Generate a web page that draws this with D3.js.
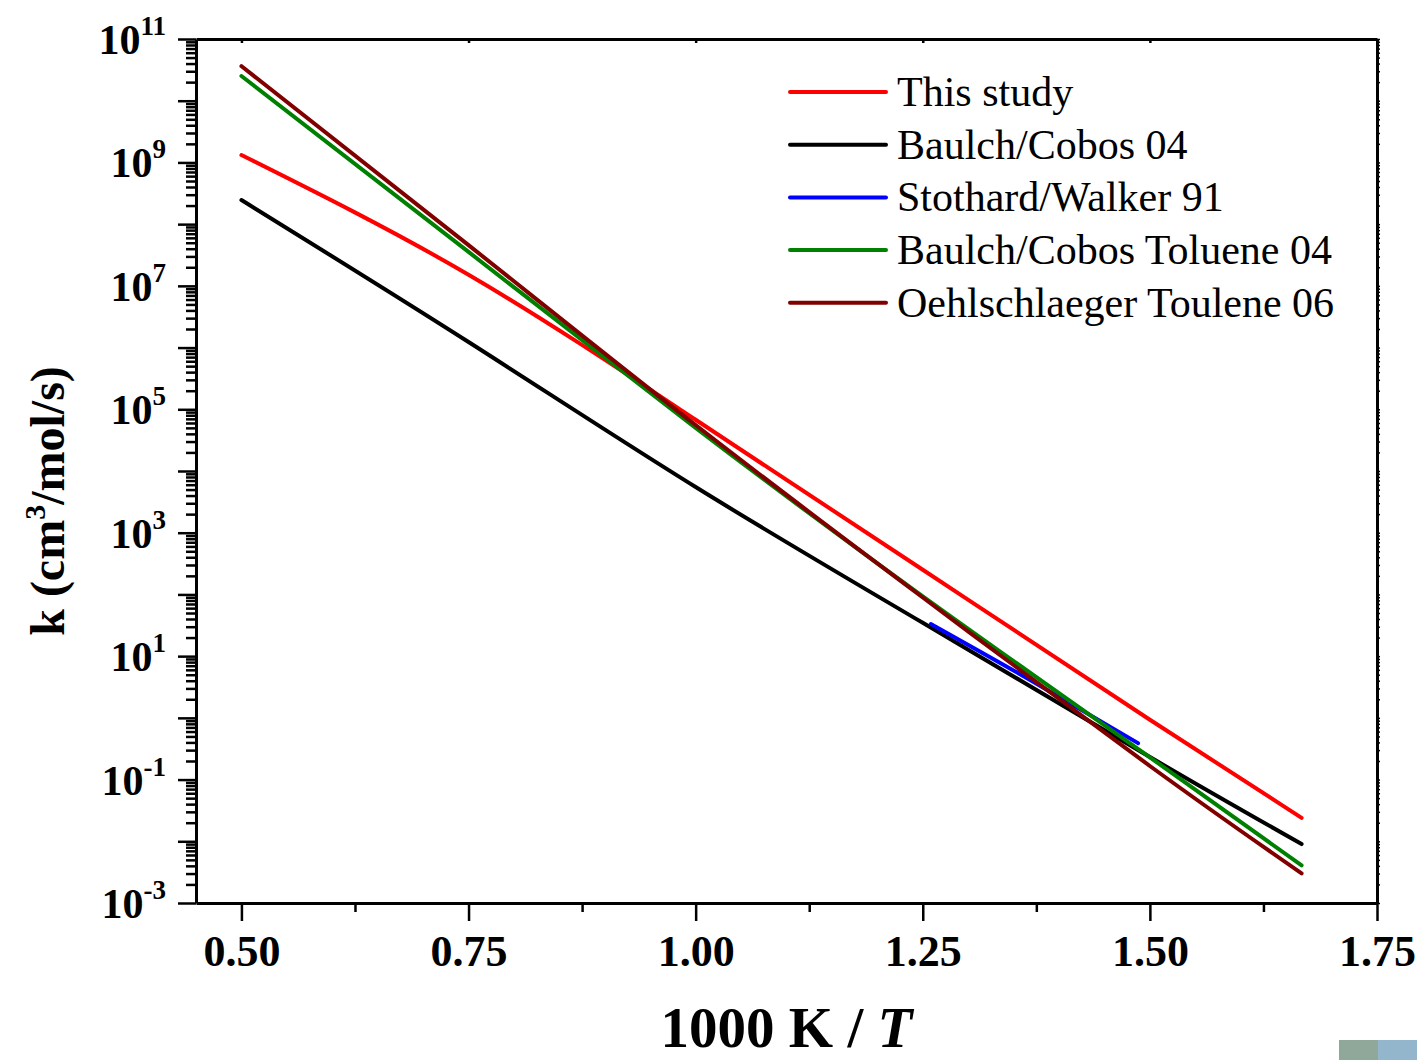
<!DOCTYPE html>
<html>
<head>
<meta charset="utf-8">
<script src="https://cdn.jsdelivr.net/npm/d3@7"></script>
<style>
  body { margin: 0; background: #fff; }
  svg text { font-family: "Liberation Serif", "Times New Roman", serif; }
</style>
</head>
<body>
<div id="chart"></div>
<script>
// data: x = 1000 K / T, y = log10(k)
var thisStudyX = [0.5, 0.75, 1.0, 1.25, 1.5, 1.667];
var thisStudyY = [9.12, 7.18, 4.83, 2.40, -0.03, -1.62];
var baulchX = [0.5, 0.75, 1.0, 1.25, 1.5, 1.667];
var baulchY = [8.39, 6.09, 3.74, 1.54, -0.635, -2.045];
var stothardX = [1.259, 1.371, 1.487];
var stothardY = [1.52, 0.59, -0.41];
var tolueneX = [0.5, 0.75, 1.0, 1.25, 1.5, 1.667];
var tolueneY = [10.40, 7.55, 4.70, 1.97, -0.64, -2.39];
var oehlX = [0.5, 0.75, 1.0, 1.25, 1.5, 1.667];
var oehlY = [10.56, 7.66, 4.745, 1.95, -0.78, -2.52];

var seriesNames = ["This study", "Baulch/Cobos 04", "Stothard/Walker 91", "Baulch/Cobos Toluene 04", "Oehlschlaeger Toulene 06"];
var seriesColors = ["#ff0000", "#000000", "#0000ff", "#008000", "#800000"];
var xTicks = [0.5, 0.75, 1.0, 1.25, 1.5, 1.75];
var yLabelExps = [11, 9, 7, 5, 3, 1, -1, -3];

var series = [
  {x: thisStudyX, y: thisStudyY},
  {x: baulchX, y: baulchY},
  {x: stothardX, y: stothardY},
  {x: tolueneX, y: tolueneY},
  {x: oehlX, y: oehlY}
];

var margin = {top: 39, right: 40, bottom: 157, left: 196},
    width = 1417 - margin.left - margin.right,
    height = 1060 - margin.top - margin.bottom;

var svg = d3.select("#chart")
  .append("svg")
    .attr("width", 1417)
    .attr("height", 1060);

var g = svg.append("g")
    .attr("transform", "translate(" + margin.left + "," + margin.top + ")");

var x = d3.scaleLinear()
  .domain([0.45, 1.75])
  .range([0, width]);

var y = d3.scaleLog()
  .domain([1e-3, 1e11])
  .range([height, 0]);

// tick lists
var yMajor = d3.range(-3, 12).map(function(e){ return Math.pow(10, e); });
var yMinor = [];
d3.range(-3, 11).forEach(function(e){
  for (var m = 2; m <= 9; m++) yMinor.push(m * Math.pow(10, e));
});
var xMinor = d3.range(0, 6).map(function(i){ return 0.5 + 0.125 + i * 0.25; }).filter(function(v){ return v < 1.75; });

//curves
var line = d3.line()
  .x(function(d){ return x(d[0]); })
  .y(function(d){ return y(Math.pow(10, d[1])); })
  .curve(d3.curveNatural);

series.forEach(function(s, i){
  var pts = s.x.map(function(v, j){ return [v, s.y[j]]; });
  g.append("path")
    .datum(pts)
    .attr("fill", "none")
    .attr("stroke", seriesColors[i])
    .attr("stroke-width", 4)
    .attr("stroke-linecap", "round")
    .attr("d", line);
});

// axes
var axisStyle = function(sel){
  sel.select(".domain").attr("stroke-width", 3);
  sel.selectAll(".tick line").attr("stroke-width", 2.5);
};

// bottom
g.append("g")
  .attr("transform", "translate(0," + height + ")")
  .call(d3.axisBottom(x).tickValues(xTicks).tickSize(18).tickSizeOuter(0).tickFormat(d3.format(".2f")))
  .call(axisStyle)
  .call(function(a){
    a.selectAll("text")
      .attr("y", 32)
      .style("font-size", "44px")
      .style("font-weight", "bold")
      .style("font-family", "'Liberation Serif', serif");
  });
g.append("g")
  .attr("transform", "translate(0," + height + ")")
  .call(d3.axisBottom(x).tickValues(xMinor).tickSize(9).tickFormat(""))
  .call(axisStyle)
  .select(".domain").remove();

// top
g.append("g")
  .call(d3.axisTop(x).tickValues(xTicks).tickSize(-4).tickSizeOuter(0).tickFormat(""))
  .call(axisStyle);

// left
g.append("g")
  .call(d3.axisLeft(y).tickValues(yMajor).tickSize(18).tickSizeOuter(0).tickFormat(""))
  .call(axisStyle);
g.append("g")
  .call(d3.axisLeft(y).tickValues(yMinor).tickSize(10).tickFormat(""))
  .call(axisStyle)
  .select(".domain").remove();

// right
g.append("g")
  .attr("transform", "translate(" + width + ",0)")
  .call(d3.axisRight(y).tickValues(yMajor.concat(yMinor)).tickSize(3).tickSizeOuter(0).tickFormat(""))
  .call(axisStyle)
  .call(function(a){ a.selectAll(".tick line").attr("stroke-width", 1.5); });

// y tick labels 10^n
var yl = g.append("g").attr("class", "ylabels");
yLabelExps.forEach(function(e){
  var t = yl.append("text")
    .attr("x", -30)
    .attr("y", y(Math.pow(10, e)) + 15)
    .attr("text-anchor", "end")
    .style("font-size", "42px")
    .style("font-weight", "bold");
  t.append("tspan").text("10");
  t.append("tspan")
    .attr("dy", -19)
    .style("font-size", "27px")
    .text(e);
});

// axis titles
var xt = svg.append("text")
  .attr("x", margin.left + x(1.1))
  .attr("y", 1047)
  .attr("text-anchor", "middle")
  .style("font-size", "57px")
  .style("font-weight", "bold");
xt.append("tspan").text("1000 K / ");
xt.append("tspan").style("font-style", "italic").text("T");

var yt = svg.append("text")
  .attr("transform", "translate(64," + (margin.top + height / 2 + 30) + ") rotate(-90)")
  .attr("text-anchor", "middle")
  .style("font-size", "48px")
  .style("font-weight", "bold");
yt.append("tspan").text("k (cm");
yt.append("tspan").attr("dy", -19).style("font-size", "30px").text("3");
yt.append("tspan").attr("dy", 19).text("/mol/s)");

// legend
var legend = svg.append("g").attr("transform", "translate(790,92)");
seriesNames.forEach(function(name, i){
  var row = legend.append("g").attr("transform", "translate(0," + (i * 52.7) + ")");
  row.append("line")
    .attr("x1", 0).attr("x2", 96)
    .attr("stroke", seriesColors[i])
    .attr("stroke-width", 4)
    .attr("stroke-linecap", "round");
  row.append("text")
    .attr("x", 107)
    .attr("y", 14)
    .style("font-size", "42px")
    .text(name);
});

// logo fragment in the corner
svg.append("rect").attr("x", 1339).attr("y", 1040).attr("width", 39).attr("height", 20).attr("fill", "#8fa89a");
svg.append("rect").attr("x", 1378).attr("y", 1040).attr("width", 39).attr("height", 20).attr("fill", "#93b6cc");
</script>
</body>
</html>
